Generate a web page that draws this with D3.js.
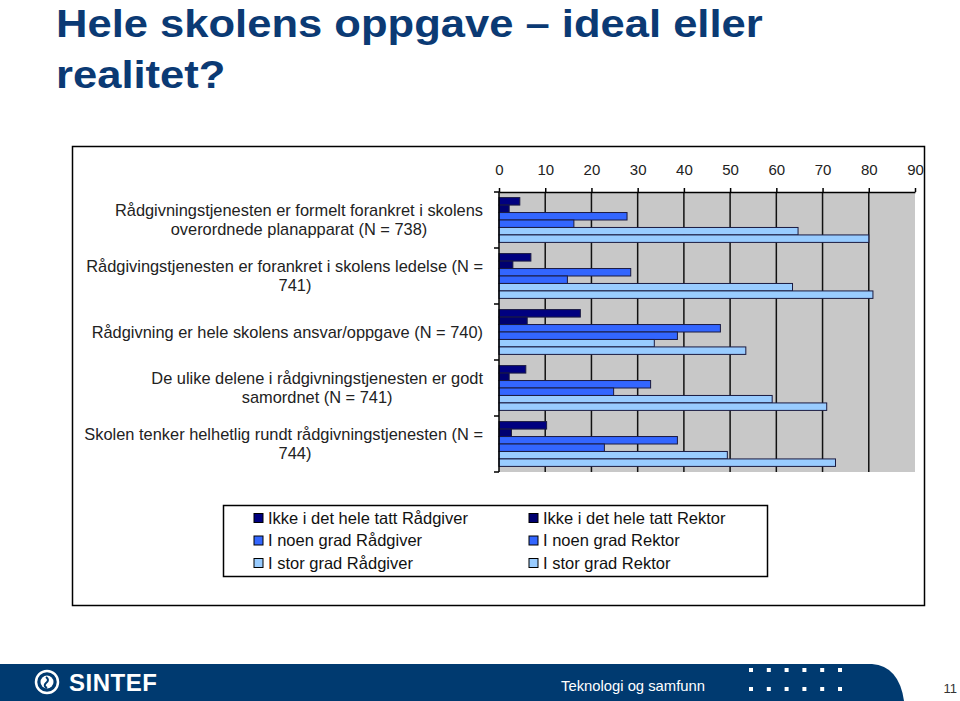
<!DOCTYPE html>
<html lang="no">
  <head>
  <meta charset="utf-8"/>
    <script type="text/javascript" src="https://cdnjs.cloudflare.com/ajax/libs/d3/7.8.5/d3.min.js"></script>
    <style>
      body { margin: 0; background: #fff; }
      svg { display: block; font-family: Arial, "Liberation Sans", sans-serif; }
    </style>
  </head>
  <body>
<svg class="fillmeup"></svg>
    <script type="text/javascript">

// categories (line breaks as in the original chart)
var categories = [
  "Rådgivningstjenesten er formelt forankret i skolens\noverordnede planapparat (N = 738)",
  "Rådgivingstjenesten er forankret i skolens ledelse (N =\n741)",
  "Rådgivning er hele skolens ansvar/oppgave (N = 740)",
  "De ulike delene i rådgivningstjenesten er godt\nsamordnet (N = 741)",
  "Skolen tenker helhetlig rundt rådgivningstjenesten (N =\n744)"
];
// series names, in legend order (also top to bottom inside each group)
var seriesNames = ["Ikke i det hele tatt Rådgiver", "Ikke i det hele tatt Rektor",
  "I noen grad Rådgiver", "I noen grad Rektor", "I stor grad Rådgiver", "I stor grad Rektor"];
// percent values, one per category
var ikkeRadgiver = [4.5, 6.9, 17.6, 5.8, 10.3];
var ikkeRektor   = [2.2, 3.0, 6.1, 2.2, 2.7];
var noenRadgiver = [27.7, 28.5, 47.9, 32.8, 38.6];
var noenRektor   = [16.2, 14.8, 38.6, 24.8, 22.8];
var storRadgiver = [64.7, 63.5, 33.6, 59.1, 49.4];
var storRektor   = [80.0, 80.9, 53.4, 70.9, 72.8];
var tickValues = [0, 10, 20, 30, 40, 50, 60, 70, 80, 90];
var colors = ["#000080", "#000070", "#3366ff", "#3366ff", "#99ccff", "#99ccff"];

var allSeries = [ikkeRadgiver, ikkeRektor, noenRadgiver, noenRektor, storRadgiver, storRektor];

var width = 960, height = 701;
var svg = d3.select(".fillmeup").attr("width", width).attr("height", height);

// title (slightly stretched horizontally like the slide)
var title = svg.append("text").attr("fill", "#0b3a74").attr("font-weight", "bold").attr("font-size", 39)
  .attr("transform", "translate(56,0) scale(1.117,1)");
title.append("tspan").attr("x", 0).attr("y", 37).text("Hele skolens oppgave – ideal eller");
title.append("tspan").attr("x", 0).attr("y", 88).text("realitet?");

// chart frame
svg.append("rect").attr("x", 72.5).attr("y", 146.5).attr("width", 852).attr("height", 459)
  .attr("fill", "#fff").attr("stroke", "#000").attr("stroke-width", 1.5);

var x = d3.scaleLinear().domain([0, 90]).range([499, 915]);
var y = d3.scaleBand().domain(d3.range(categories.length)).range([192, 472]);
var inner = d3.scaleBand().domain(d3.range(seriesNames.length)).range([0, y.bandwidth()]).paddingOuter(0.75);

svg.append("rect").attr("x", x(0)).attr("y", 192).attr("width", x(90) - x(0)).attr("height", 280).attr("fill", "#c8c8c8");

// gridlines
svg.selectAll("line.grid").data(tickValues.slice(1, -1)).enter().append("line")
  .attr("class", "grid")
  .attr("x1", function(d) { return x(d); }).attr("x2", function(d) { return x(d); })
  .attr("y1", 192).attr("y2", 472).attr("stroke", "#111").attr("stroke-width", 1.5);

// bars
var groups = svg.selectAll("g.cat").data(categories).enter().append("g")
  .attr("class", "cat")
  .attr("transform", function(d, i) { return "translate(0," + y(i) + ")"; });
groups.selectAll("rect").data(function(d, i) {
    return allSeries.map(function(s, j) { return { s: j, v: s[i] }; });
  }).enter().append("rect")
  .attr("x", x(0))
  .attr("y", function(d) { return inner(d.s); })
  .attr("width", function(d) { return x(d.v) - x(0); })
  .attr("height", inner.bandwidth())
  .attr("fill", function(d) { return colors[d.s]; })
  .attr("stroke", "#1a1a40").attr("stroke-width", 1);

// top axis
var axis = svg.append("g").attr("transform", "translate(0,192)")
  .call(d3.axisTop(x).tickValues(tickValues).tickSize(4).tickPadding(13).tickSizeOuter(0));
axis.select(".domain").attr("stroke", "#000").attr("stroke-width", 1.5);
axis.selectAll(".tick line").attr("stroke", "#000").attr("stroke-width", 1.5);
axis.selectAll(".tick text").attr("font-size", 15).attr("fill", "#222").attr("font-family", "Arial, 'Liberation Sans', sans-serif");

// left axis
svg.append("line").attr("x1", x(0)).attr("x2", x(0)).attr("y1", 192).attr("y2", 472)
  .attr("stroke", "#000").attr("stroke-width", 1.5);
svg.selectAll("line.ltick").data(d3.range(categories.length + 1)).enter().append("line")
  .attr("class", "ltick")
  .attr("x1", x(0) - 5).attr("x2", x(0))
  .attr("y1", function(d) { return 192 + d * y.step(); })
  .attr("y2", function(d) { return 192 + d * y.step(); })
  .attr("stroke", "#000").attr("stroke-width", 1.5);

// category labels: block centered, capped width, long lines pushed to the right edge
var rightEdge = 483, maxW = 376;
categories.forEach(function(c, i) {
  var lines = c.split("\n");
  var cy = y(i) + y.bandwidth() / 2;
  var t = svg.append("g");
  var texts = lines.map(function(l, k) {
    return t.append("text").attr("font-size", 16.4).attr("fill", "#222")
      .attr("y", cy + (k - (lines.length - 1) / 2) * 19 + 5.5).text(l);
  });
  var ws = texts.map(function(tx) { return tx.node().getComputedTextLength(); });
  var center = rightEdge - Math.min(d3.max(ws), maxW) / 2;
  texts.forEach(function(tx, k) {
    if (ws[k] > maxW) tx.attr("x", rightEdge).attr("text-anchor", "end");
    else tx.attr("x", center).attr("text-anchor", "middle");
  });
});

// legend
svg.append("rect").attr("x", 223.5).attr("y", 505.5).attr("width", 544).attr("height", 71)
  .attr("fill", "#fff").attr("stroke", "#000").attr("stroke-width", 1.5);
var leg = svg.selectAll("g.leg").data(seriesNames).enter().append("g")
  .attr("class", "leg")
  .attr("transform", function(d, i) {
    return "translate(" + (i % 2 === 0 ? 254 : 529) + "," + (518 + Math.floor(i / 2) * 22.5) + ")";
  });
leg.append("rect").attr("x", 0).attr("y", -4.5).attr("width", 9).attr("height", 9)
  .attr("fill", function(d, i) { return colors[i]; }).attr("stroke", "#000").attr("stroke-width", 1);
leg.append("text").attr("x", 14).attr("y", 5.8).attr("font-size", 16.5).attr("fill", "#111")
  .text(function(d) { return d; });

// footer
svg.append("path").attr("d", "M0,664 H872 Q899,666 904,701 H0 Z").attr("fill", "#003a70");
var logo = svg.append("g").attr("transform", "translate(47,682)");
logo.append("circle").attr("r", 11).attr("fill", "none").attr("stroke", "#fff").attr("stroke-width", 2.5);
logo.append("circle").attr("r", 6.5).attr("fill", "#fff");
logo.append("path").attr("d", "M-1,-5 Q3,-2 -1,1 Q-4,4 0,6").attr("fill", "none").attr("stroke", "#003a70").attr("stroke-width", 2);
svg.append("text").attr("x", 69).attr("y", 691).attr("fill", "#fff").attr("font-weight", "bold")
  .attr("font-size", 24).attr("letter-spacing", 0.5).text("SINTEF");
svg.append("text").attr("x", 633).attr("y", 691).attr("text-anchor", "middle").attr("fill", "#fff")
  .attr("font-size", 14.8).attr("font-family", "'Liberation Sans Narrow', Arial, sans-serif").text("Teknologi og samfunn");
d3.range(12).forEach(function(k) {
  svg.append("rect").attr("x", 749 + (k % 6) * 17.8).attr("y", k < 6 ? 668 : 687)
    .attr("width", 4).attr("height", 4).attr("fill", "#fff");
});
svg.append("text").attr("x", 957).attr("y", 693).attr("text-anchor", "end").attr("fill", "#333")
  .attr("font-size", 13).text("11");

    </script>
  </body>
</html>
